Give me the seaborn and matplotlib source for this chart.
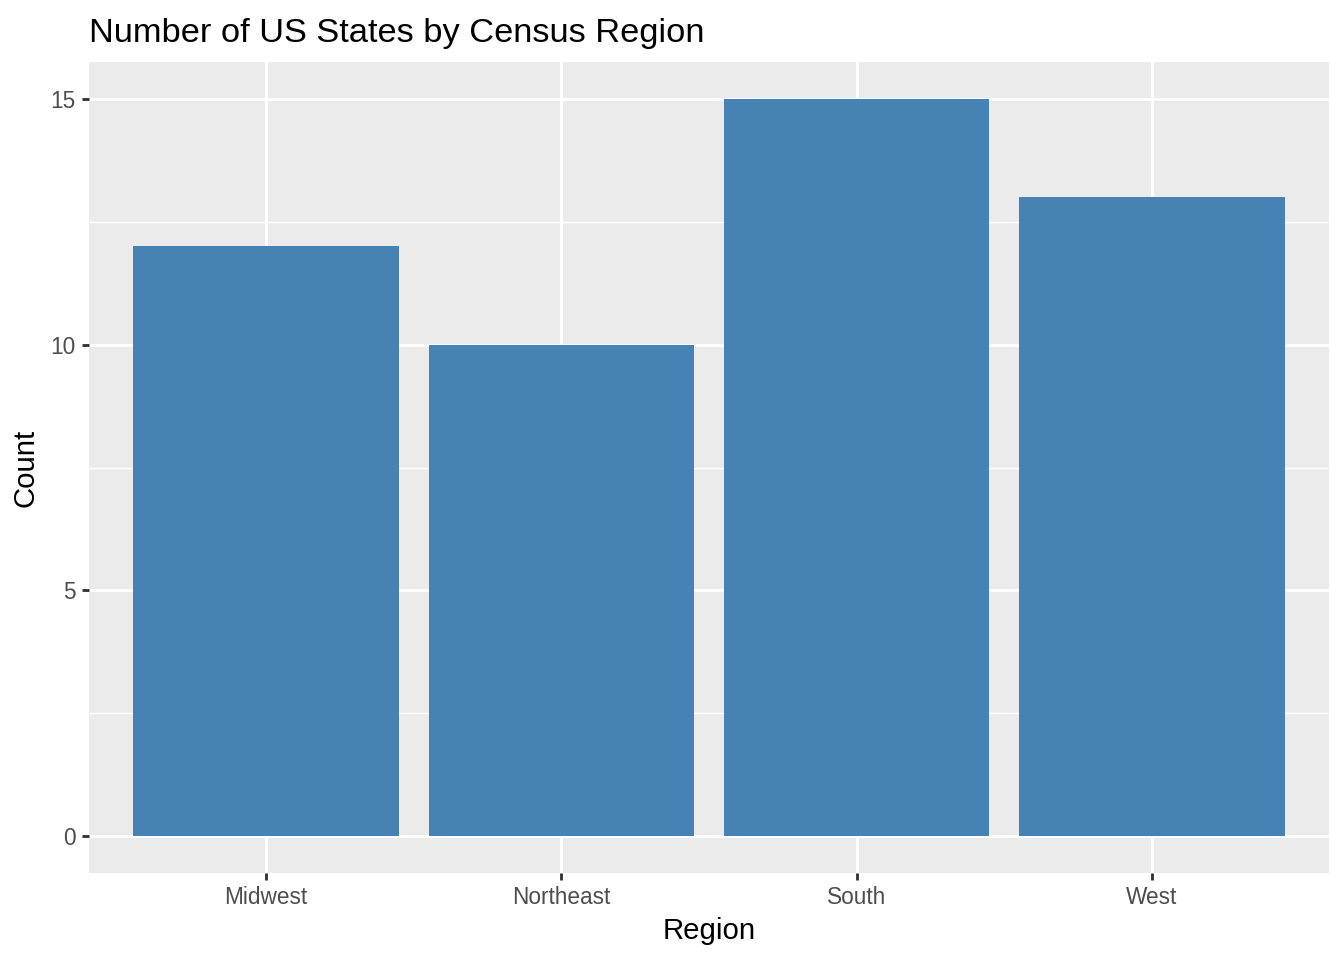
import pandas as pd
import seaborn as sns
import matplotlib.pyplot as plt

regions = ["Midwest", "Northeast", "South", "West"]
counts = [12, 10, 15, 13]

df = pd.DataFrame({"Region": regions, "Count": counts})

sns.set_theme(style="darkgrid")
plt.rcParams["font.family"] = ["Liberation Sans", "DejaVu Sans"]

fig = plt.figure(figsize=(7, 5), dpi=192)
# panel placed like the ggplot original (pixels 89..1329, 62..873)
ax = fig.add_axes([89 / 1344, 1 - 873 / 960, 1240 / 1344, 811 / 960])
ax.set_facecolor("#EBEBEB")

sns.barplot(data=df, x="Region", y="Count", color="#4682B4", saturation=1,
            width=0.9, linewidth=0, edgecolor="none", ax=ax, zorder=3)

ax.set_xlim(-0.6, 3.6)
ax.set_ylim(-0.75, 15.75)
ax.set_yticks([0, 5, 10, 15])
ax.set_yticks([2.5, 7.5, 12.5], minor=True)
ax.grid(which="major", color="white", linewidth=1.07, zorder=0)
ax.grid(which="minor", axis="y", color="white", linewidth=0.53, zorder=0)
ax.set_axisbelow(True)
for s in ax.spines.values():
    s.set_visible(False)

ax.tick_params(axis="both", which="major", length=2.75, width=1.07, color="#333333",
               labelsize=8.5, labelcolor="#4D4D4D", pad=2.2, bottom=True, left=True)
ax.tick_params(axis="both", which="minor", length=0)

ax.set_xlabel("Region", fontsize=11, color="black", labelpad=3)
ax.set_ylabel("Count", fontsize=11, color="black", labelpad=4)
ax.set_title("Number of US States by Census Region", fontsize=12.9, loc="left",
             color="black", pad=7.5)

fig.savefig("out.png", dpi=192)
